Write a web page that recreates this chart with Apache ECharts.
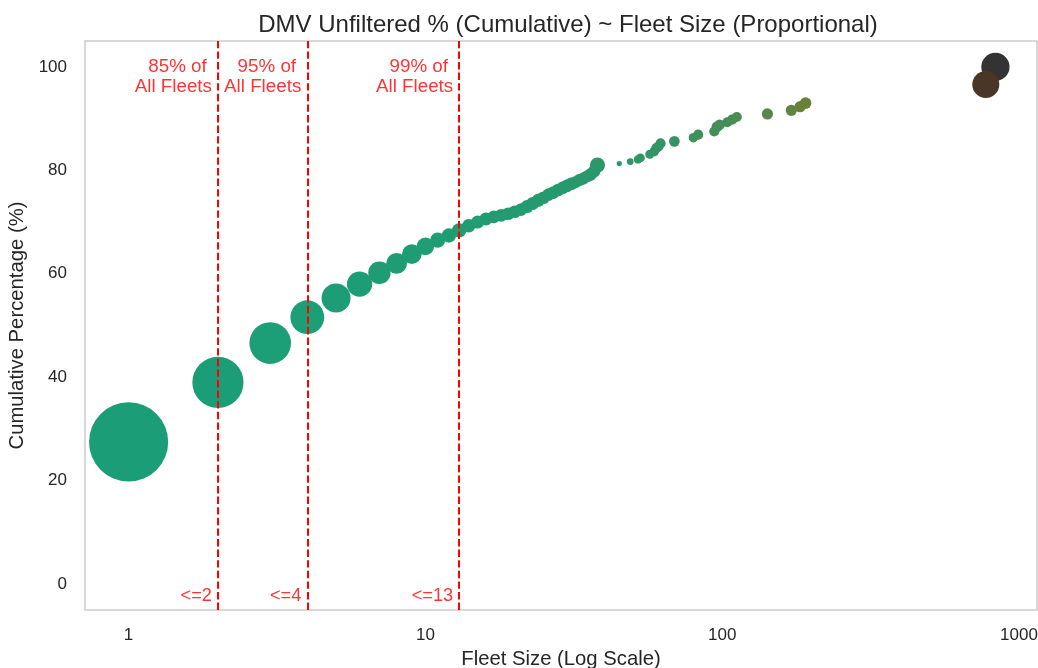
<!DOCTYPE html>
<html>
<head>
<meta charset="utf-8">
<script src="https://cdn.jsdelivr.net/npm/echarts@6/dist/echarts.min.js"></script>
<style>
html,body{margin:0;padding:0;background:#fff;}
#chart{width:1038px;height:668px;}
</style>
</head>
<body>
<div id="chart"></div>
<script>
// ---- data ----
const fleetSize = [1,2,3,4,5,6,7,8,9,10,11,12,13,14,15,16,17,18,19,20,21,22,23,24,25,26,27,28,29,30,31,32,33,34,35,36,37,38,
  45,49,52,53,57,59,60,61,62,69,80,83,94,96,98,104,108,112,142,171,183,191,833,773];
const cumPct = [27.5,39.0,46.6,51.6,55.3,58.0,60.2,62.0,63.8,65.3,66.5,67.4,68.4,69.3,70.0,70.6,71.0,71.3,71.6,72.0,72.4,73.0,73.6,74.2,74.7,75.3,75.7,76.2,76.6,77.0,77.4,77.7,78.1,78.4,78.8,79.2,79.8,81.0,
  81.3,81.7,82.1,82.4,83.1,83.6,84.3,84.6,85.2,85.6,86.3,86.9,87.5,88.4,88.8,89.3,89.8,90.3,90.9,91.6,92.3,93.0,100.0,96.6];
const sharePct = [27.5,11.5,7.6,5.0,3.7,2.8,2.2,1.9,1.7,1.35,1.0,0.9,0.9,0.8,0.75,0.75,0.7,0.7,0.7,0.7,0.7,0.75,0.75,0.75,0.7,0.7,0.7,0.7,0.7,0.7,0.7,0.65,0.65,0.65,0.65,0.7,0.7,1.0,
  0.12,0.2,0.3,0.35,0.35,0.4,0.45,0.45,0.45,0.5,0.4,0.45,0.45,0.5,0.5,0.45,0.45,0.45,0.55,0.55,0.55,0.6,3.5,3.2];
const thresholds = [2, 4, 13];
const thresholdTopLabels = ['85% of \nAll Fleets', '95% of \nAll Fleets', '99% of \nAll Fleets'];
const thresholdBottomLabels = ['<=2', '<=4', '<=13'];
const xTickValues = [1, 10, 100, 1000];
const yTickValues = [0, 20, 40, 60, 80, 100];

// ---- styling helpers ----
const FONT = "'Liberation Sans', Arial, sans-serif";
const TEXT = '#262626';
const colorStops = [[0, [27,158,119]], [0.23, [107,127,58]], [0.93, [74,54,38]], [1, [51,51,51]]];
const xMinData = Math.min(...fleetSize), xMaxData = Math.max(...fleetSize);
function colorFor(x) {
  const t = (x - xMinData) / (xMaxData - xMinData);
  for (let i = 1; i < colorStops.length; i++) {
    if (t <= colorStops[i][0]) {
      const a = colorStops[i-1], b = colorStops[i];
      const f = (t - a[0]) / (b[0] - a[0]);
      const c = a[1].map((v, k) => Math.round(v + (b[1][k] - v) * f));
      return 'rgb(' + c.join(',') + ')';
    }
  }
  return 'rgb(51,51,51)';
}

const points = fleetSize.map((x, i) => [x, cumPct[i], sharePct[i]]);
const TOP_LABEL_Y = 98.0;
const BOTTOM_LABEL_Y = -2.3;

const chart = echarts.init(document.getElementById('chart'), null, {renderer: 'canvas'});
chart.setOption({
  animation: false,
  backgroundColor: '#ffffff',
  textStyle: {fontFamily: FONT},
  title: {
    text: 'DMV Unfiltered % (Cumulative) ~ Fleet Size (Proportional)',
    left: 563, top: 8, textAlign: 'center',
    textStyle: {fontFamily: FONT, fontSize: 24, fontWeight: 'normal', color: TEXT}
  },
  grid: {left: 85, right: 1, top: 41, bottom: 58, show: true, borderColor: '#cccccc', borderWidth: 1.5,
    containLabel: false, outerBoundsMode: 'none'},
  xAxis: {
    type: 'log', logBase: 10, min: 0.713, max: 1150,
    name: 'Fleet Size (Log Scale)', nameLocation: 'middle', nameGap: 39,
    nameTextStyle: {fontFamily: FONT, fontSize: 20.3, color: TEXT},
    axisLine: {show: false}, axisTick: {show: false}, splitLine: {show: false},
    axisLabel: {fontFamily: FONT, fontSize: 17, color: TEXT, margin: 17, showMinLabel: false, showMaxLabel: false,
      formatter: v => (xTickValues.some(t => Math.abs(t - v) / t < 1e-6) ? String(Math.round(v)) : '')}
  },
  yAxis: {
    type: 'value', min: -5, max: 105,
    name: 'Cumulative Percentage (%)', nameLocation: 'middle', nameGap: 53, nameRotate: 90,
    nameTextStyle: {fontFamily: FONT, fontSize: 20.3, color: TEXT},
    axisLine: {show: false}, axisTick: {show: false}, splitLine: {show: false},
    axisLabel: {fontFamily: FONT, fontSize: 17, color: TEXT, margin: 18, customValues: yTickValues}
  },
  series: [
    {
      type: 'scatter', z: 2,
      data: points,
      symbol: 'circle',
      symbolSize: v => 15.1 * Math.sqrt(v[2]),
      itemStyle: {color: p => colorFor(p.value[0]), borderWidth: 0, opacity: 1},
      emphasis: {disabled: true}
    },
    {
      type: 'scatter', z: 5, data: [], silent: true,
      markLine: {
        silent: true, symbol: ['none', 'none'], animation: false,
        label: {show: false},
        lineStyle: {color: '#ff0000', type: [7.4, 3.2], width: 2},
        data: thresholds.map(t => ({xAxis: t}))
      }
    },
    {
      type: 'scatter', z: 6, silent: true, symbolSize: 0,
      data: thresholds.map((t, i) => ({value: [t, TOP_LABEL_Y], name: thresholdTopLabels[i]})),
      label: {show: true, position: 'left', distance: 6, formatter: p => p.name,
        fontFamily: FONT, fontSize: 18.8, lineHeight: 20, color: '#ff0000', align: 'right'}
    },
    {
      type: 'scatter', z: 6, silent: true, symbolSize: 0,
      data: thresholds.map((t, i) => ({value: [t, BOTTOM_LABEL_Y], name: thresholdBottomLabels[i]})),
      label: {show: true, position: 'left', distance: 6, formatter: p => p.name,
        fontFamily: FONT, fontSize: 18.2, lineHeight: 20, color: '#ff0000', align: 'right'}
    }
  ]
});
</script>
</body>
</html>
